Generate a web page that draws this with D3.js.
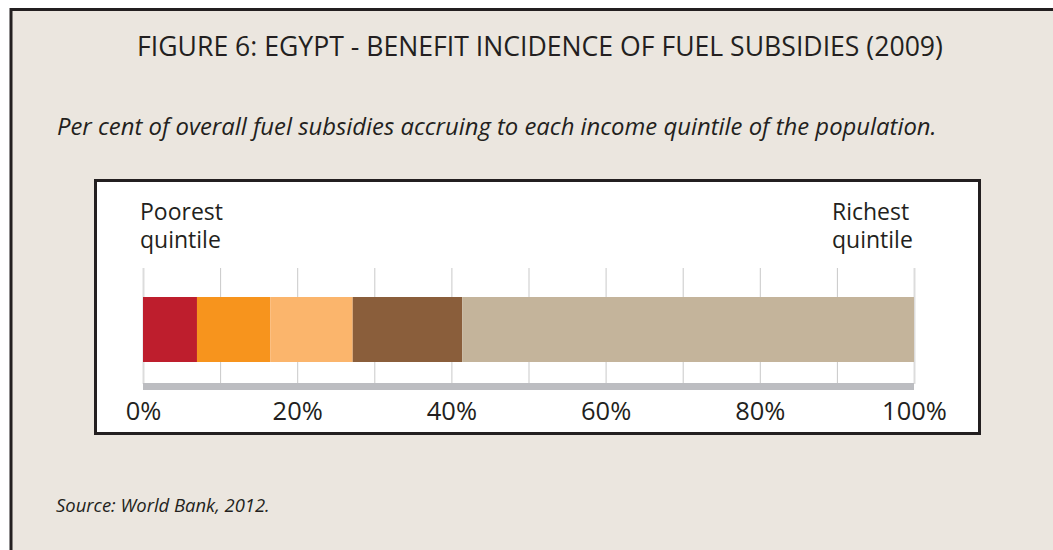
<!DOCTYPE html>
<html>
<head>
<meta charset="utf-8">
<script src="https://cdn.jsdelivr.net/npm/d3@7"></script>
<style>
  html, body { margin: 0; padding: 0; background: #ffffff; }
  svg { display: block; }
  text { font-family: "Open Sans", "Noto Sans", sans-serif; fill: #231f20; }
</style>
</head>
<body>
<svg id="chart" width="1053" height="550"></svg>
<script>
// ---- data ----
const quintiles = ["Poorest", "Second", "Third", "Fourth", "Richest"];
const shares = [7.0, 9.5, 10.7, 14.2, 58.6];
const colors = ["#be1e2d", "#f7941d", "#fbb56c", "#8a5e3b", "#c4b49b"];
const tickValues = [0, 20, 40, 60, 80, 100];
const gridValues = [0, 10, 20, 30, 40, 50, 60, 70, 80, 90, 100];
const titleText = "FIGURE 6: EGYPT - BENEFIT INCIDENCE OF FUEL SUBSIDIES (2009)";
const subtitleText = "Per cent of overall fuel subsidies accruing to each income quintile of the population.";
const sourceText = "Source: World Bank, 2012.";
const leftLabel = ["Poorest", "quintile"];
const rightLabel = ["Richest", "quintile"];

const svg = d3.select("#chart");

// outer panel
svg.append("rect").attr("x", 11).attr("y", 9.5).attr("width", 1100).attr("height", 600)
  .attr("fill", "#ebe6df").attr("stroke", "#231f20").attr("stroke-width", 3);

function fitText(sel, targetWidth) {
  const w = sel.node().getComputedTextLength();
  const fs = parseFloat(sel.attr("font-size"));
  sel.attr("font-size", (fs * targetWidth / w).toFixed(2));
}

const title = svg.append("text").attr("x", 540).attr("y", 56).attr("text-anchor", "middle")
  .attr("font-size", 26).text(titleText);
fitText(title, 806);

const subtitle = svg.append("text").attr("x", 57).attr("y", 135)
  .attr("font-size", 22).attr("font-style", "italic").text(subtitleText);
fitText(subtitle, 880);

const source = svg.append("text").attr("x", 56).attr("y", 512)
  .attr("font-size", 17).attr("font-style", "italic").attr("fill", "#414042").text(sourceText);
fitText(source, 214);

// inner white chart box
svg.append("rect").attr("x", 95.5).attr("y", 180.5).attr("width", 884).attr("height", 253)
  .attr("fill", "#ffffff").attr("stroke", "#231f20").attr("stroke-width", 3);

const x = d3.scaleLinear().domain([0, 100]).range([143, 914]);
const barTop = 297, barBottom = 362;

// gridlines
svg.append("g").selectAll("line").data(gridValues).join("line")
  .attr("x1", d => x(d) + 0.5).attr("x2", d => x(d) + 0.5)
  .attr("y1", 268).attr("y2", 384)
  .attr("stroke", d => (d === 0 || d === 100) ? "#dcdcdc" : "#c9c9c9")
  .attr("stroke-width", d => (d === 0 || d === 100) ? 2 : 1);

// stacked bar
const stacked = [];
let acc = 0;
shares.forEach((v, i) => { stacked.push({ q: quintiles[i], x0: acc, x1: acc + v, c: colors[i] }); acc += v; });
svg.append("g").selectAll("rect").data(stacked).join("rect")
  .attr("x", d => x(d.x0)).attr("width", d => x(d.x1) - x(d.x0))
  .attr("y", barTop).attr("height", barBottom - barTop)
  .attr("fill", d => d.c);

// axis
const axis = d3.axisBottom(x).tickValues(tickValues).tickSize(0).tickPadding(0)
  .tickFormat(d => d + "%");
const ag = svg.append("g").attr("transform", "translate(0,383)").call(axis);
ag.select(".domain").remove();
ag.append("rect").attr("x", x(0)).attr("y", 0).attr("width", x(100) - x(0)).attr("height", 7)
  .attr("fill", "#bcbdc1");
ag.selectAll(".tick text").attr("font-size", 25.5).attr("fill", "#231f20")
  .attr("font-family", "\"Open Sans\", sans-serif").attr("dy", 0).attr("y", 37);

// end labels (one text per line)
svg.append("g").selectAll("text").data(leftLabel).join("text")
  .attr("x", 140).attr("y", (d, i) => 220 + i * 28).attr("font-size", 23).text(d => d);
svg.append("g").selectAll("text").data(rightLabel).join("text")
  .attr("x", 832).attr("y", (d, i) => 220 + i * 28).attr("font-size", 23).text(d => d);
</script>
</body>
</html>
